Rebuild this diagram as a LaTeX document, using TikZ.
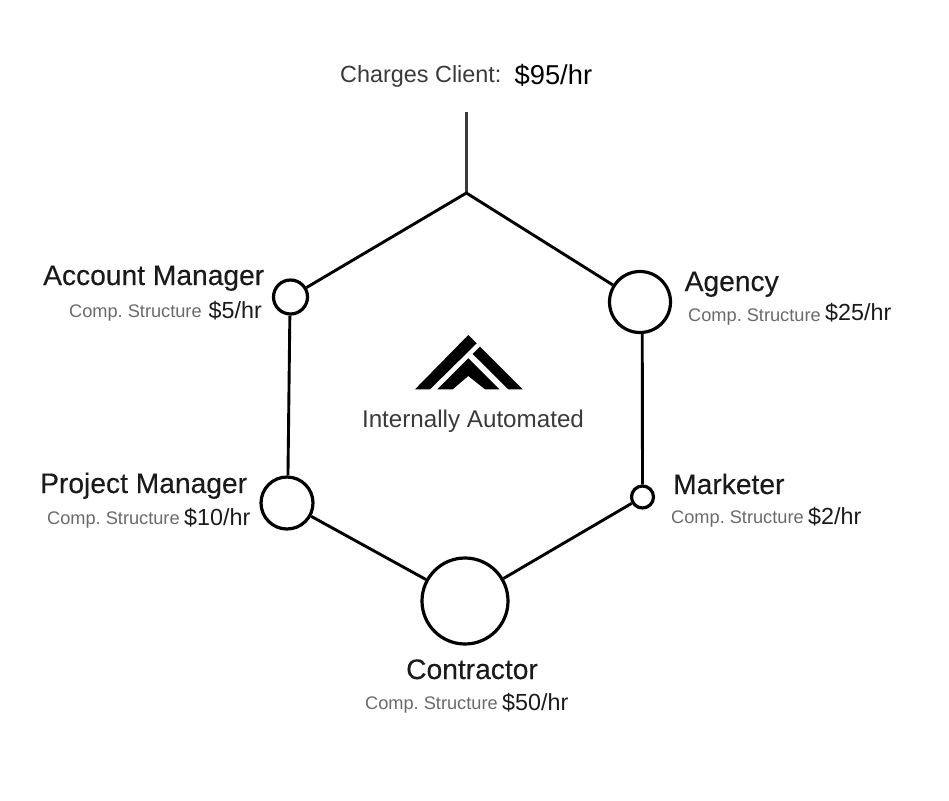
\documentclass[tikz,border=0pt]{standalone}
\usepackage{fontspec}
\setmainfont{Liberation Sans}
\newfontface\medface[FakeBold=0.25]{Liberation Sans}
\definecolor{ink}{HTML}{1A1A1A}
\definecolor{soft}{HTML}{6A6A6A}
\definecolor{mid}{HTML}{3A3A3A}
\newcommand{\fs}[1]{\fontsize{#1}{#1}\selectfont}
\tikzset{
  hub/.style={circle,draw=black,line width=3.2pt,fill=white,inner sep=0pt,minimum size=#1},
  link/.style={draw=black,line width=2.9pt},
  title/.style={inner sep=0pt,text=ink,font=\medface\fs{28.2}},
  comp/.style={inner sep=0pt,text=soft,font=\fs{18.2}\frenchspacing},
  rate/.style={inner sep=0pt,text=ink,font=\fs{23.3}},
  lbl/.style={inner sep=0pt,text=mid,font=\fs{23.4}},
}
\begin{document}
\begin{tikzpicture}[x=1pt,y=-1pt]
\useasboundingbox (0,0) rectangle (949,800);
\coordinate (stem) at (466.4,112);
\coordinate (apex) at (466.4,193);
\node[hub=34pt] (am) at (290.5,297) {};
\node[hub=61pt] (ag) at (640,302) {};
\node[hub=22pt] (mk) at (642.5,497) {};
\node[hub=86pt] (ct) at (465,601) {};
\node[hub=52pt] (pm) at (287,503) {};
\draw[draw=mid,line width=3.2pt] (stem) -- (apex);
\draw[link,line join=miter] (am) -- (apex) -- (ag);
\draw[link] (am.-92) -- (pm.88);
\draw[link] (ag.-86) -- (mk.north);
\draw[link] (pm) -- (ct);
\draw[link] (mk) -- (ct);
\fill[black] (468.3,335) -- (476.7,343.3) -- (430,389.3) -- (415,389.3) -- cycle;
\fill[black] (480,346.7) -- (522.7,389.3) -- (508.3,389.3) -- (472.7,354) -- cycle;
\fill[black] (468.3,358.3) -- (499.3,389.3) -- (485,389.3) -- (468.3,376) -- (452.7,389.3) -- (437.3,389.3) -- cycle;
\node[lbl,anchor=base west] (cc) at (340,82) {Charges Client:};
\node[inner sep=0pt,text=black,font=\fs{27.3},anchor=base west] (cv) at (514.5,84) {\$95/hr};
\node[lbl,font=\fs{24.2},anchor=base] (ia) at (473,427) {Internally Automated};
\node[title,anchor=base west] (t1) at (43,285) {Account Manager};
\node[comp,anchor=base west] (c1) at (69,317) {Comp. Structure};
\node[rate,anchor=base west] (r1) at (208.5,318.5) {\$5/hr};
\node[title,anchor=base west] (t2) at (684.5,291) {Agency};
\node[comp,anchor=base west] (c2) at (688,321) {Comp. Structure};
\node[rate,anchor=base west] (r2) at (825,320.5) {\$25/hr};
\node[title,anchor=base west] (t3) at (40,493) {Project Manager};
\node[comp,anchor=base west] (c3) at (47,524) {Comp. Structure};
\node[rate,anchor=base west] (r3) at (184,525.5) {\$10/hr};
\node[title,anchor=base west] (t4) at (673,494) {Marketer};
\node[comp,anchor=base west] (c4) at (671,523) {Comp. Structure};
\node[rate,anchor=base west] (r4) at (808,524) {\$2/hr};
\node[title,anchor=base west] (t5) at (406,679) {Contractor};
\node[comp,anchor=base west] (c5) at (365,709) {Comp. Structure};
\node[rate,anchor=base west] (r5) at (502,710.5) {\$50/hr};
\end{tikzpicture}
\end{document}
